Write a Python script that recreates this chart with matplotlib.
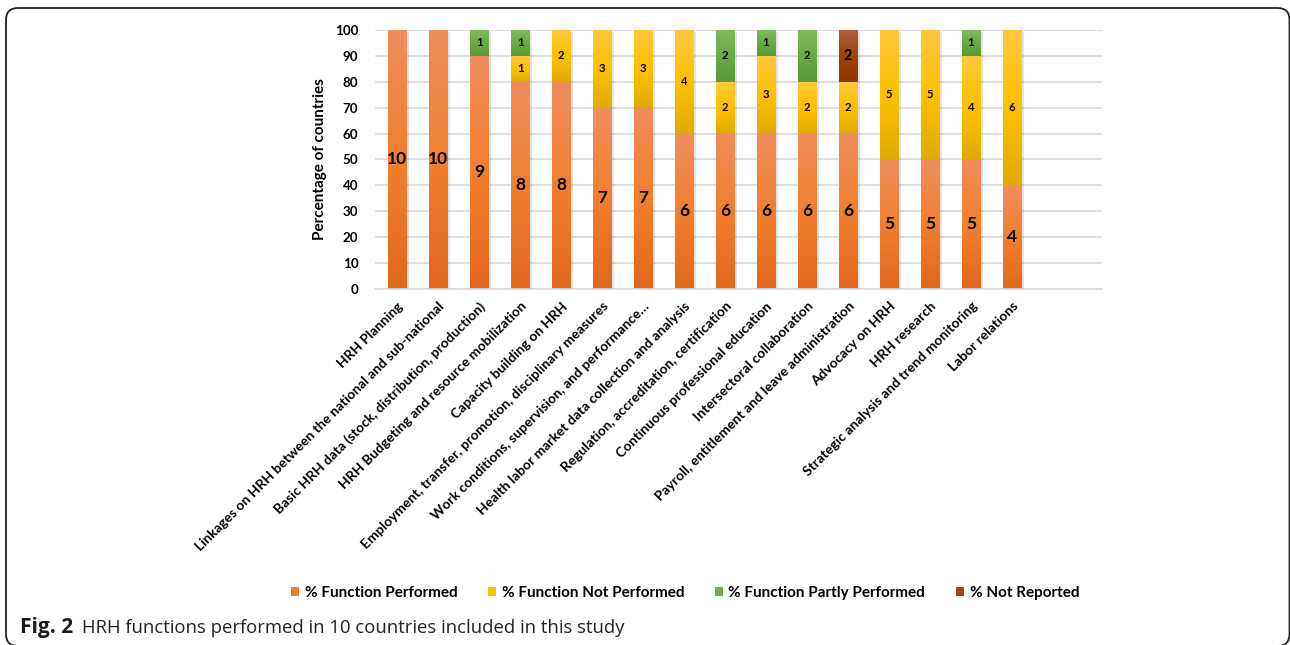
import numpy as np
import matplotlib
matplotlib.use("Agg")
import matplotlib.pyplot as plt
from matplotlib.colors import LinearSegmentedColormap
from matplotlib.patches import FancyBboxPatch, Patch

# HRH functions and the number of countries (out of 10) in each status
functions = [
    "HRH Planning",
    "Linkages on HRH between the national and sub-national",
    "Basic HRH data (stock, distribution, production)",
    "HRH Budgeting and resource mobilization",
    "Capacity building on HRH",
    "Employment, transfer, promotion, disciplinary measures",
    "Work conditions, supervision, and performance\u2026",
    "Health labor market data collection and analysis",
    "Regulation, accreditation, certification",
    "Continuous professional education",
    "Intersectoral collaboration",
    "Payroll, entitlement and leave administration",
    "Advocacy on HRH",
    "HRH research",
    "Strategic analysis and trend monitoring",
    "Labor relations",
]
performed     = [10, 10, 9, 8, 8, 7, 7, 6, 6, 6, 6, 6, 5, 5, 5, 4]
not_performed = [0, 0, 0, 1, 2, 3, 3, 4, 2, 3, 2, 2, 5, 5, 4, 6]
partly        = [0, 0, 1, 1, 0, 0, 0, 0, 2, 1, 2, 0, 0, 0, 1, 0]
not_reported  = [0, 0, 0, 0, 0, 0, 0, 0, 0, 0, 0, 2, 0, 0, 0, 0]
n_countries = 10

# name, counts, legend colour, gradient (bottom -> middle -> top), label size
series = [
    ("% Function Performed", performed, "#ED7D31",
     ("#E2681B", "#F17F2E", "#EF8D5C"), 12.5),
    ("% Function Not Performed", not_performed, "#FFC000",
     ("#E0AB00", "#FFC000", "#FFC83C"), 8.2),
    ("% Function Partly Performed", partly, "#70AD47",
     ("#5A9A38", "#6AAA43", "#7DBA5C"), 8.2),
    ("% Not Reported", not_reported, "#9E480E",
     ("#923600", "#9E420A", "#AF603E"), 10.5),
]

plt.rcParams["font.family"] = ["Lato", "DejaVu Sans"]

fig = plt.figure(figsize=(12.9, 6.45), dpi=100)
ax = fig.add_axes([0.2907, 0.552, 0.5636, 0.4015])

x = np.arange(len(functions))
width = 0.45
bottom = np.zeros(len(functions))

for name, counts, base, stops, fs in series:
    pct = np.array(counts, dtype=float) * 100 / n_countries
    # soft drop shadow behind each segment
    ax.bar(x + 0.04, pct, width + 0.06, bottom=bottom - 0.8, color="#000000",
           alpha=0.11, zorder=1.5, linewidth=0)
    bars = ax.bar(x, pct, width, bottom=bottom, color=base, zorder=2,
                  linewidth=0, label=name)
    cmap = LinearSegmentedColormap.from_list(name, list(stops))
    grad = np.linspace(0, 1, 64).reshape(-1, 1)
    for rect, v, c in zip(bars, pct, counts):
        if v <= 0:
            continue
        x0, y0 = rect.get_x(), rect.get_y()
        im = ax.imshow(grad, cmap=cmap, origin="lower", aspect="auto",
                       extent=(x0, x0 + rect.get_width(), y0, y0 + v),
                       zorder=2.1, interpolation="bilinear")
        im.set_clip_path(rect)
        ax.text(rect.get_x() + rect.get_width() / 2, y0 + v / 2, str(c),
                ha="center", va="center", fontsize=fs,
                fontweight="bold", color="black", zorder=3)
    bottom += pct

ax.set_xlim(-0.54, 17.2)
ax.set_ylim(0, 100)
ax.set_yticks(np.arange(0, 101, 10))
ax.yaxis.grid(True, color="#D9D9D9", linewidth=1.2, zorder=0)
ax.set_axisbelow(True)
for s in ["top", "right", "left"]:
    ax.spines[s].set_visible(False)
ax.spines["bottom"].set_color("#D9D9D9")
ax.spines["bottom"].set_linewidth(1.2)
ax.tick_params(axis="both", length=0)
ax.tick_params(axis="y", labelsize=9.6, pad=12)
for lbl in ax.get_yticklabels():
    lbl.set_fontweight("bold")

ax.set_xticks(x)
ax.set_xticklabels(functions, rotation=45, ha="right",
                   rotation_mode="anchor", fontsize=9.9, fontweight="bold")
ax.tick_params(axis="x", pad=8)
ax.set_ylabel("Percentage of countries", fontsize=11, fontweight="bold",
              labelpad=6)

handles = [Patch(facecolor=s[2], edgecolor="none") for s in series]
fig.legend(handles, [s[0] for s in series], loc="center",
           bbox_to_anchor=(0.531, 0.0806), ncol=4, frameon=False,
           prop={"weight": "bold", "size": 11}, handlelength=0.55,
           handleheight=0.55, handletextpad=0.35, columnspacing=2.0)

# caption
cap_font = ["Open Sans", "DejaVu Sans"]
fig.text(20 / 1290, 0.0185, "Fig. 2", fontsize=15.0, fontweight="bold",
         family=cap_font, va="baseline", color="#1a1a1a")
fig.text(82 / 1290, 0.0185,
         "HRH functions performed in 10 countries included in this study",
         fontsize=13.3, family=cap_font, va="baseline", color="#222222")

# rounded outer frame (positioned in inches)
frame = FancyBboxPatch((0.06, -0.01), 12.835, 6.38,
                       boxstyle="round,pad=0,rounding_size=0.12",
                       transform=fig.dpi_scale_trans, fill=False,
                       edgecolor="#222222", linewidth=1.3)
fig.patches.append(frame)

fig.savefig("out.png", dpi=100)
